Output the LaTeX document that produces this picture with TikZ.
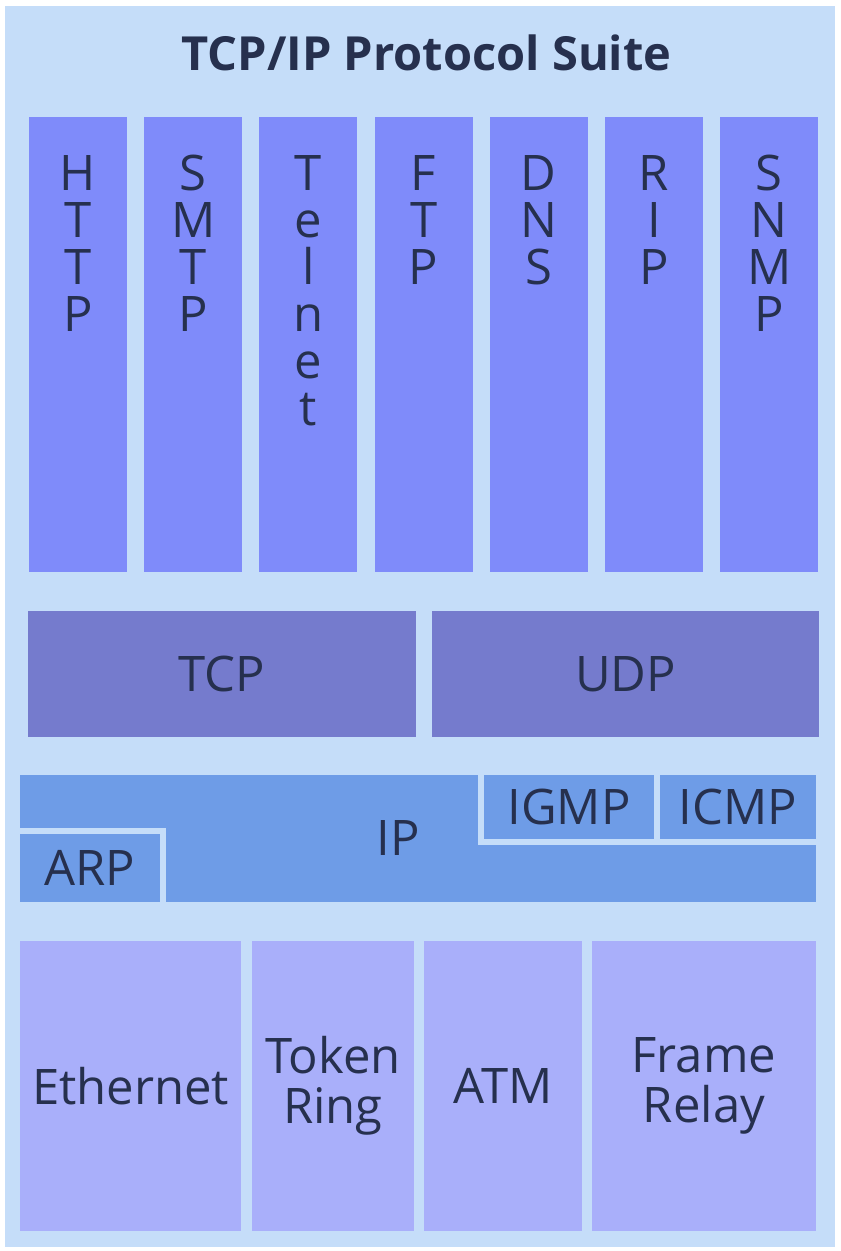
\documentclass[tikz,border=0pt]{standalone}
\usepackage{fontspec}
\setmainfont{Open Sans}
\usetikzlibrary{positioning}

\definecolor{panel}{RGB}{197,221,249}
\definecolor{appblue}{RGB}{127,139,250}
\definecolor{transblue}{RGB}{117,123,205}
\definecolor{ipblue}{RGB}{110,156,231}
\definecolor{linkblue}{RGB}{169,175,250}
\definecolor{ink}{RGB}{38,48,78}

\tikzstyle{layer} = [
    rectangle,
    anchor=north west,
    inner sep=0pt,
    outer sep=0pt,
    align=center,
    text=ink,
    font=\fontsize{49}{50}\selectfont
]
\tikzstyle{app} = [layer, fill=appblue, minimum width=98pt, minimum height=455pt]
\tikzstyle{transport} = [layer, fill=transblue, minimum height=126pt]
\tikzstyle{network} = [layer, fill=ipblue, minimum height=127pt]
\tikzstyle{inset} = [layer, fill=ipblue, draw=panel, line width=6pt]
\tikzstyle{link} = [layer, fill=linkblue, minimum height=290pt]
\tikzstyle{letters} = [anchor=north, inner sep=0pt, align=center, text=ink, font=\fontsize{49}{47}\selectfont]

\begin{document}
\begin{tikzpicture}[x=1pt, y=-1pt]
    \useasboundingbox [fill=white] (0, 0) rectangle (841, 1251);

    % Panel and title.
    \node (suite) [layer, fill=panel, minimum width=830pt, minimum height=1241pt] at (5, 6) {};
    \node (title) [anchor=base, inner sep=0pt, text=ink, font=\fontsize{47}{50}\selectfont\bfseries] at (426.5, 70) {TCP/IP Protocol Suite};

    % Application layer.
    \node (http) [app] at (29, 117) {};
    \node (smtp) [app] at (144.2, 117) {};
    \node (telnet) [app] at (259.4, 117) {};
    \node (ftp) [app] at (374.6, 117) {};
    \node (dns) [app] at (489.8, 117) {};
    \node (rip) [app] at (605, 117) {};
    \node (snmp) [app] at (720.2, 117) {};

    \node (http text) [letters, below=38pt of http.north] {H\\T\\T\\P};
    \node (smtp text) [letters, below=38pt of smtp.north] {S\\M\\T\\P};
    \node (telnet text) [letters, below=38pt of telnet.north] {T\\e\\l\\n\\e\\t};
    \node (ftp text) [letters, below=38pt of ftp.north] {F\\T\\P};
    \node (dns text) [letters, below=38pt of dns.north] {D\\N\\S};
    \node (rip text) [letters, below=38pt of rip.north] {R\\I\\P};
    \node (snmp text) [letters, below=38pt of snmp.north] {S\\N\\M\\P};

    % Transport layer.
    \node (tcp) [transport, minimum width=388pt] at (28, 611) {TCP};
    \node (udp) [transport, minimum width=387pt] at (432, 611) {UDP};

    % Internet layer.
    \node (ip) [network, minimum width=796pt] at (20, 775) {};
    \node (arp) [inset, minimum width=146pt, minimum height=74pt] at (17, 831) {ARP};
    \node (igmp) [inset, minimum width=176pt, minimum height=70pt] at (481, 772) {IGMP};
    \node (icmp) [inset, minimum width=162pt, minimum height=70pt] at (657, 772) {ICMP};
    \node (ip text) [text=ink, inner sep=0pt, font=\fontsize{49}{50}\selectfont] at (398, 838) {IP};

    % Link layer.
    \node (ethernet) [link, minimum width=221pt] at (20, 941) {Ethernet};
    \node (token ring) [link, minimum width=162pt] at (252, 941) {Token\\Ring};
    \node (atm) [link, minimum width=158pt] at (424, 941) {ATM};
    \node (frame relay) [link, minimum width=224pt] at (592, 941) {Frame\\Relay};
\end{tikzpicture}
\end{document}
